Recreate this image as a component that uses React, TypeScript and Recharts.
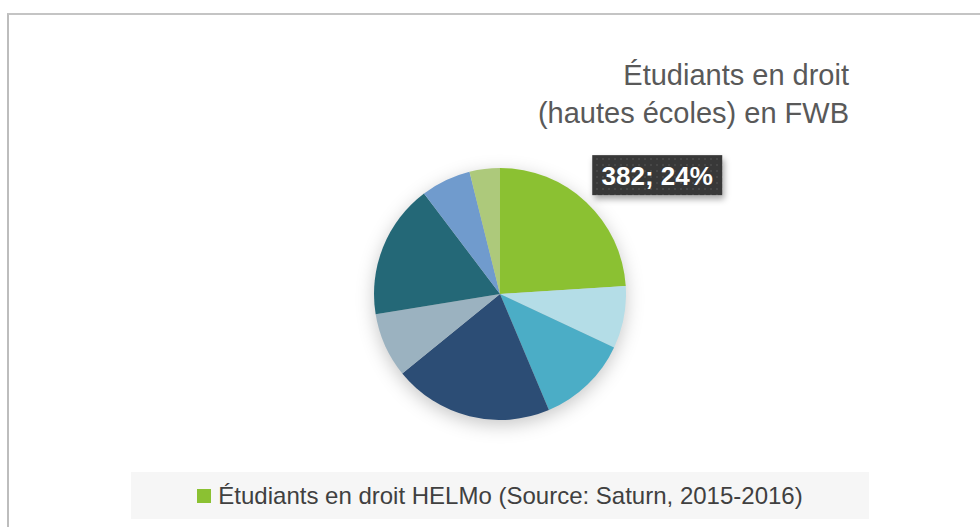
import React from "react";
import { PieChart, Pie, Cell, Legend } from "recharts";

const schools = ["HELMo", "École 2", "École 3", "École 4", "École 5", "École 6", "École 7", "École 8"];
const students = [382, 127, 186, 326, 132, 275, 102, 62];
const colors = ["#8BC132", "#B4DDE7", "#4BADC6", "#2C4D75", "#9BB2C0", "#246877", "#709BCD", "#ADC97B"];
const titleLines = ["Étudiants en droit", "(hautes écoles) en FWB"];
const seriesName = "Étudiants en droit HELMo (Source: Saturn, 2015-2016)";

const data = schools.map((name, i) => ({ name, value: students[i] }));

const RADIAN = Math.PI / 180;
const FONT = "'Liberation Sans', Arial, sans-serif";

const renderLabel = (props: any) => {
    const { cx, cy, midAngle, outerRadius, value, percent, index } = props;
    if (index !== 0) return null;
    const x = cx + outerRadius * Math.cos(-midAngle * RADIAN);
    const y = cy + outerRadius * Math.sin(-midAngle * RADIAN);
    const left = x + 6;
    const bottom = y - 7;
    const w = 130;
    const h = 40;
    return (
        <g>
            <defs>
                <pattern id="dots" width="6" height="6" patternUnits="userSpaceOnUse">
                    <rect width="6" height="6" fill="#383838" />
                    <circle cx="3" cy="3" r="1" fill="#4a4a4a" />
                </pattern>
                <filter id="lblShadow" x="-20%" y="-30%" width="140%" height="180%">
                    <feDropShadow dx="2" dy="4" stdDeviation="3" floodColor="#000" floodOpacity="0.35" />
                </filter>
            </defs>
            <rect x={left} y={bottom - h} width={w} height={h} fill="url(#dots)" filter="url(#lblShadow)" />
            <text x={left + w / 2} y={bottom - 10} textAnchor="middle" fill="#ffffff"
                style={{ fontFamily: FONT, fontSize: 26, fontWeight: 700 }}>
                {`${value}; ${Math.round(percent * 100)}%`}
            </text>
        </g>
    );
};

const LegendContent = () => (
    <div style={{
        background: "#f6f6f6", width: 738, height: 47, display: "flex",
        alignItems: "center", justifyContent: "center", fontFamily: FONT,
        fontSize: 24, color: "#404040",
    }}>
        <span style={{ display: "inline-block", width: 14, height: 14, background: colors[0], marginRight: 7 }} />
        <span>{seriesName}</span>
    </div>
);

export default function App() {
    return (
        <div style={{ position: "absolute", left: 0, top: 0, width: 980, height: 527, background: "#fff", overflow: "hidden" }}>
            <style>{`.pie-shadow .recharts-pie { filter: drop-shadow(0px 5px 9px rgba(0,0,0,0.22)); }`}</style>
            <div style={{
                position: "absolute", left: 7, top: 13, width: 1000, height: 600,
                borderLeft: "2px solid #bdbdbd", borderTop: "2px solid #c4c4c4",
            }} />
            <div style={{
                position: "absolute", right: 131, top: 56, textAlign: "right",
                fontFamily: FONT, fontSize: 29, color: "#595959", lineHeight: "38px",
            }}>
                {titleLines.map((t) => <div key={t}>{t}</div>)}
            </div>
            <div className="pie-shadow" style={{ position: "absolute", left: 0, top: 0 }}>
                <PieChart width={980} height={527} margin={{ top: 0, right: 0, bottom: 0, left: 0 }}>
                    <Pie data={data} dataKey="value" nameKey="name" cx={500} cy={294}
                        outerRadius={126} startAngle={90} endAngle={-270}
                        stroke="none" label={renderLabel} labelLine={false}
                        isAnimationActive={false}>
                        {data.map((d, i) => <Cell key={d.name} fill={colors[i]} />)}
                    </Pie>
                    <Legend content={<LegendContent />}
                        wrapperStyle={{ position: "absolute", left: 131, top: 472, width: 738 }} />
                </PieChart>
            </div>
        </div>
    );
}
